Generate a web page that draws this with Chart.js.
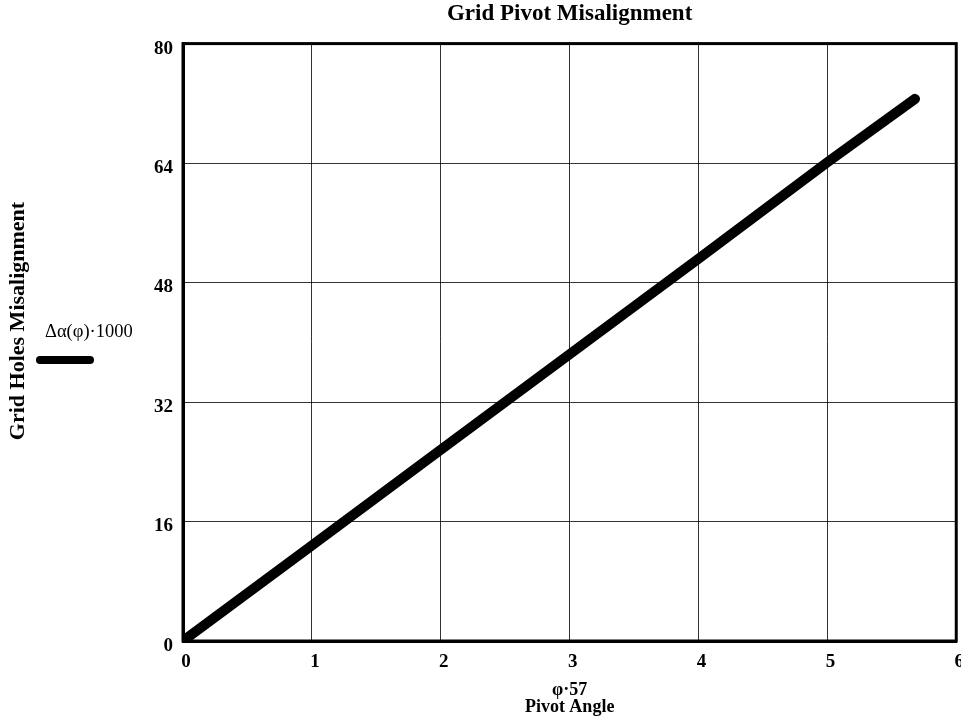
<!DOCTYPE html>
<html>
<head>
<meta charset="utf-8">
<script src="https://cdn.jsdelivr.net/npm/chart.js@4.4.1/dist/chart.umd.min.js"></script>
<style>
  html, body { margin: 0; padding: 0; background: #fff; overflow: hidden; }
  #wrap { width: 971px; height: 719px; }
</style>
</head>
<body>
<div id="wrap"><canvas id="chart" width="971" height="719"></canvas></div>
<script>
// Pivot angle (phi*57) and misalignment (delta-alpha * 1000)
const pivotAngle = [0.03, 1, 2, 3, 4, 5, 5.68];
const misalignment = [0.4, 12.8, 25.6, 38.4, 51.2, 64.1, 72.6];
const xTicks = [0, 1, 2, 3, 4, 5, 6];
const yTicks = [0, 16, 32, 48, 64, 80];

const serif = '"Liberation Serif", "Times New Roman", serif';

const points = pivotAngle.map((x, i) => ({ x: x, y: misalignment[i] }));

// frame, rotated y title and the little legend on the left
const extras = {
  id: 'extras',
  beforeDatasetsDraw(chart) {
    const { ctx, chartArea } = chart;
    ctx.save();
    ctx.strokeStyle = '#000';
    ctx.lineWidth = 3;
    ctx.strokeRect(chartArea.left, chartArea.top, chartArea.right - chartArea.left, chartArea.bottom - chartArea.top);
    ctx.restore();
  },
  afterDraw(chart) {
    const ctx = chart.ctx;
    ctx.save();
    ctx.fillStyle = '#000';
    ctx.translate(18, 321);
    ctx.rotate(-Math.PI / 2);
    ctx.font = 'bold 22px ' + serif;
    ctx.textAlign = 'center';
    ctx.textBaseline = 'middle';
    ctx.fillText('Grid Holes Misalignment', 0, 0);
    ctx.restore();

    ctx.save();
    ctx.font = '18.5px ' + serif;
    ctx.fillStyle = '#000';
    ctx.textAlign = 'left';
    ctx.textBaseline = 'middle';
    ctx.fillText('\u0394\u03b1(\u03c6)\u00b71000', 45, 332);
    ctx.strokeStyle = '#000';
    ctx.lineWidth = 8;
    ctx.lineCap = 'round';
    ctx.beginPath();
    ctx.moveTo(40, 360);
    ctx.lineTo(90, 360);
    ctx.stroke();
    ctx.restore();
  }
};

new Chart(document.getElementById('chart').getContext('2d'), {
  type: 'scatter',
  data: {
    datasets: [{
      label: '\u0394\u03b1(\u03c6)\u00b71000',
      data: points,
      showLine: true,
      borderColor: '#000',
      backgroundColor: '#000',
      borderWidth: 10,
      borderCapStyle: 'round',
      pointRadius: 0,
      tension: 0
    }]
  },
  options: {
    responsive: false,
    animation: false,
    layout: { padding: { left: 0, right: 3, top: 0, bottom: 0 } },
    plugins: {
      legend: { display: false },
      tooltip: { enabled: false },
      title: {
        display: true,
        fullSize: false,
        text: 'Grid Pivot Misalignment',
        color: '#000',
        font: { family: serif, size: 23, weight: 'bold', lineHeight: 1.2 },
        padding: { top: 0, bottom: 16 }
      }
    },
    scales: {
      x: {
        type: 'linear',
        min: 0,
        max: 6,
        afterBuildTicks: s => { s.ticks = xTicks.map(v => ({ value: v })); },
        afterFit: s => { s.height = 78; },
        grid: { color: 'rgba(0,0,0,0.8)', lineWidth: 1, drawTicks: false },
        border: { display: true, color: '#000', width: 3 },
        ticks: {
          color: '#000',
          padding: 10,
          labelOffset: 3,
          maxRotation: 0,
          font: { family: serif, size: 19, weight: 'bold' }
        },
        title: {
          display: true,
          text: ['\u03c6\u00b757', 'Pivot Angle'],
          color: '#000',
          font: { family: serif, size: 18, weight: 'bold', lineHeight: 0.95 },
          padding: { top: 0, bottom: 3 }
        }
      },
      y: {
        min: 0,
        max: 80,
        afterBuildTicks: s => { s.ticks = yTicks.map(v => ({ value: v })); },
        afterFit: s => { s.width = 183; },
        grid: { color: 'rgba(0,0,0,0.8)', lineWidth: 1, drawTicks: false },
        border: { display: true, color: '#000', width: 3 },
        ticks: {
          color: '#000',
          padding: 10,
          labelOffset: 5,
          font: { family: serif, size: 19, weight: 'bold' }
        }
      }
    }
  },
  plugins: [extras]
});
</script>
</body>
</html>
